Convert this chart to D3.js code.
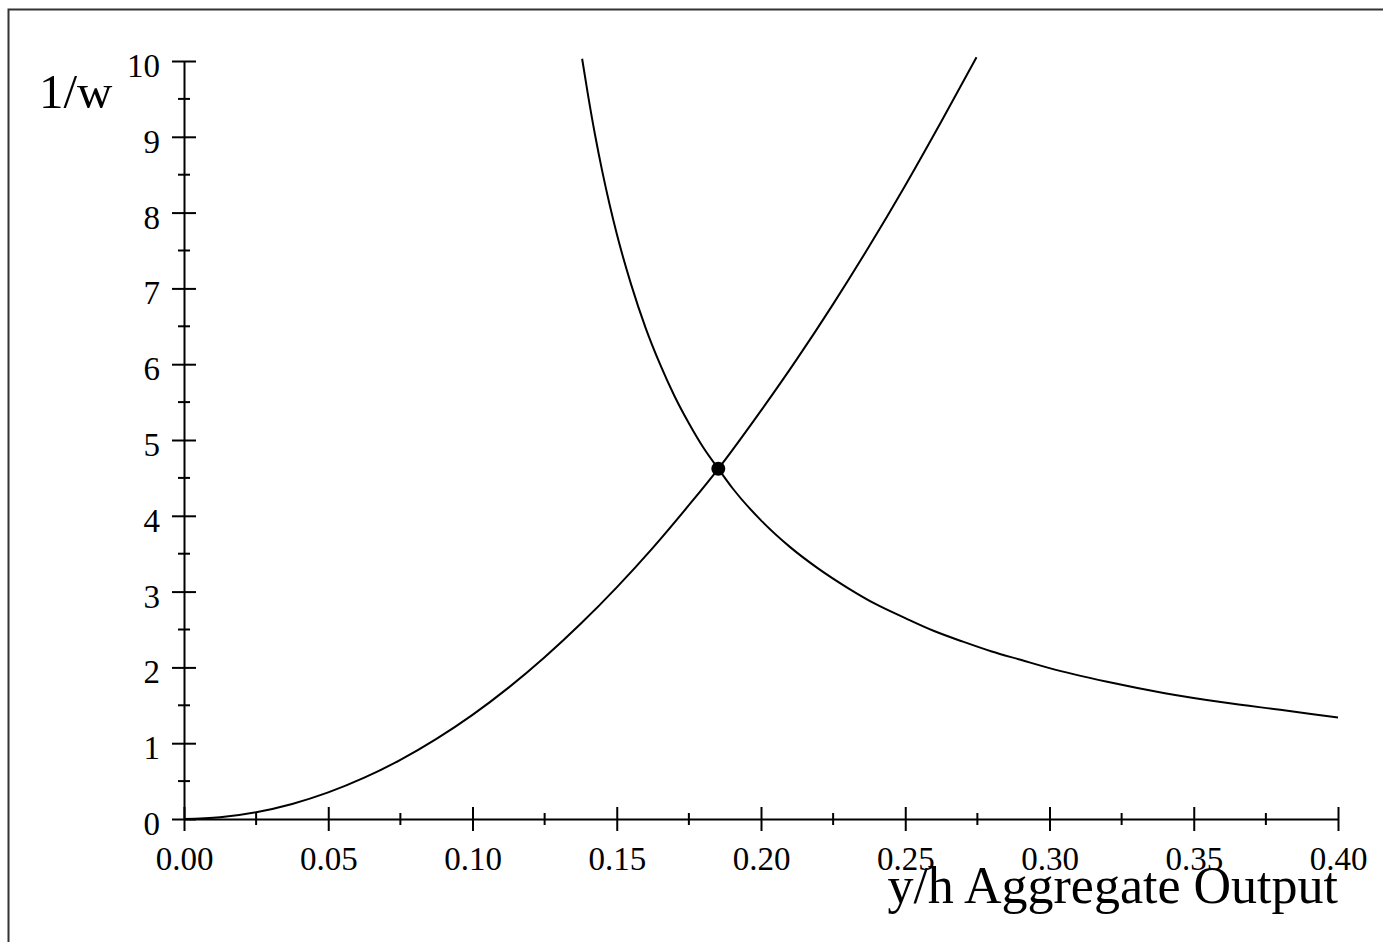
<!DOCTYPE html>
<html>
<head>
<meta charset="utf-8">
<script src="https://cdn.jsdelivr.net/npm/d3@7"></script>
<style>
  html, body { margin: 0; padding: 0; background: #fff; overflow: hidden; }
  svg { display: block; }
  .tick text { font-family: "Liberation Serif", "Times New Roman", serif; font-size: 33px; fill: #000; }
  .axis-title { font-family: "Liberation Serif", "Times New Roman", serif; fill: #000; }
</style>
</head>
<body>
<svg id="chart" width="1383" height="942"></svg>
<script>
// --- DATA ---
const xTicks = [0, 0.05, 0.10, 0.15, 0.20, 0.25, 0.30, 0.35, 0.40];
const xMinor = [0.025, 0.075, 0.125, 0.175, 0.225, 0.275, 0.325, 0.375];
const yTicks = [0, 1, 2, 3, 4, 5, 6, 7, 8, 9, 10];
const yMinor = [0.5, 1.5, 2.5, 3.5, 4.5, 5.5, 6.5, 7.5, 8.5, 9.5];

// rising curve
const riseX = [0, 0.0125, 0.025, 0.0375, 0.05, 0.0625, 0.075, 0.0875, 0.10, 0.1125, 0.125, 0.1375,
               0.15, 0.1625, 0.175, 0.1852, 0.20, 0.2125, 0.225, 0.2375, 0.25, 0.2625, 0.2747];
const riseY = [0, 0.023, 0.090, 0.199, 0.351, 0.545, 0.780, 1.057, 1.374, 1.733, 2.134, 2.575,
               3.056, 3.577, 4.140, 4.62, 5.387, 6.070, 6.793, 7.556, 8.359, 9.203, 10.05];

// falling curve
const fallX = [0.138, 0.14, 0.1425, 0.145, 0.1475, 0.15, 0.155, 0.16, 0.165, 0.17, 0.175, 0.18, 0.1852,
               0.19, 0.20, 0.21, 0.22, 0.23, 0.24, 0.25, 0.26, 0.27, 0.28, 0.29, 0.30, 0.32, 0.34, 0.36, 0.38, 0.40];
const fallY = [10.03, 9.56, 9.02, 8.54, 8.11, 7.72, 7.05, 6.48, 6.00, 5.58, 5.22, 4.90, 4.62,
               4.37, 3.94, 3.59, 3.30, 3.05, 2.83, 2.65, 2.48, 2.34, 2.21, 2.10, 1.99, 1.81, 1.66, 1.54, 1.44, 1.34];

// equilibrium point
const eqPoint = [0.1852, 4.62];

const xLabel = "y/h Aggregate Output";
const yLabel = "1/w";

document.addEventListener('DOMContentLoaded', () => {
    const svg = d3.select("#chart");

    // outer frame
    svg.append("rect")
        .attr("x", 8.5).attr("y", 9.5)
        .attr("width", 1400).attr("height", 1000)
        .attr("fill", "none")
        .attr("stroke", "#333")
        .attr("stroke-width", 2);

    const x = d3.scaleLinear().domain([0, 0.4]).range([184, 1338]);
    const y = d3.scaleLinear().domain([0, 10]).range([819, 61]);

    // x axis
    const gx = svg.append("g")
        .attr("transform", `translate(0,${y(0)})`)
        .call(d3.axisBottom(x).tickValues(xTicks).tickFormat(d3.format(".2f")).tickSizeOuter(0));
    gx.select(".domain").attr("stroke-width", 2);
    gx.selectAll(".tick line").attr("y1", -12).attr("y2", 12).attr("stroke-width", 2);
    gx.selectAll(".tick text").attr("y", 28).attr("dy", "0.71em");
    gx.selectAll(".minor")
        .data(xMinor)
        .join("line")
        .attr("class", "minor")
        .attr("x1", d => x(d)).attr("x2", d => x(d))
        .attr("y1", -6).attr("y2", 6)
        .attr("stroke", "#000").attr("stroke-width", 2);

    // y axis
    const gy = svg.append("g")
        .attr("transform", `translate(${x(0)},0)`)
        .call(d3.axisLeft(y).tickValues(yTicks).tickFormat(d3.format("d")).tickSizeOuter(0));
    gy.select(".domain").attr("stroke-width", 2);
    gy.selectAll(".tick line").attr("x1", -12).attr("x2", 12).attr("stroke-width", 2);
    gy.selectAll(".tick text").attr("x", -24).attr("dy", "0.47em");
    gy.selectAll(".minor")
        .data(yMinor)
        .join("line")
        .attr("class", "minor")
        .attr("y1", d => y(d)).attr("y2", d => y(d))
        .attr("x1", -6).attr("x2", 6)
        .attr("stroke", "#000").attr("stroke-width", 2);

    const line = d3.line()
        .x(d => x(d[0]))
        .y(d => y(d[1]))
        .curve(d3.curveMonotoneX);

    const rise = riseX.map((v, i) => [v, riseY[i]]);
    const fall = fallX.map((v, i) => [v, fallY[i]]);

    [rise, fall].forEach(series => {
        svg.append("path")
            .datum(series)
            .attr("d", line)
            .attr("fill", "none")
            .attr("stroke", "#000")
            .attr("stroke-width", 2);
    });

    svg.append("circle")
        .attr("cx", x(eqPoint[0]))
        .attr("cy", y(eqPoint[1]))
        .attr("r", 7)
        .attr("fill", "#000");

    // axis titles
    svg.append("text").attr("class", "axis-title")
        .attr("x", 39).attr("y", 108)
        .style("font-size", "49px")
        .text(yLabel);

    svg.append("text").attr("class", "axis-title")
        .attr("x", 1338).attr("y", 903)
        .attr("text-anchor", "end")
        .style("font-size", "52px")
        .text(xLabel);
});
</script>
</body>
</html>
